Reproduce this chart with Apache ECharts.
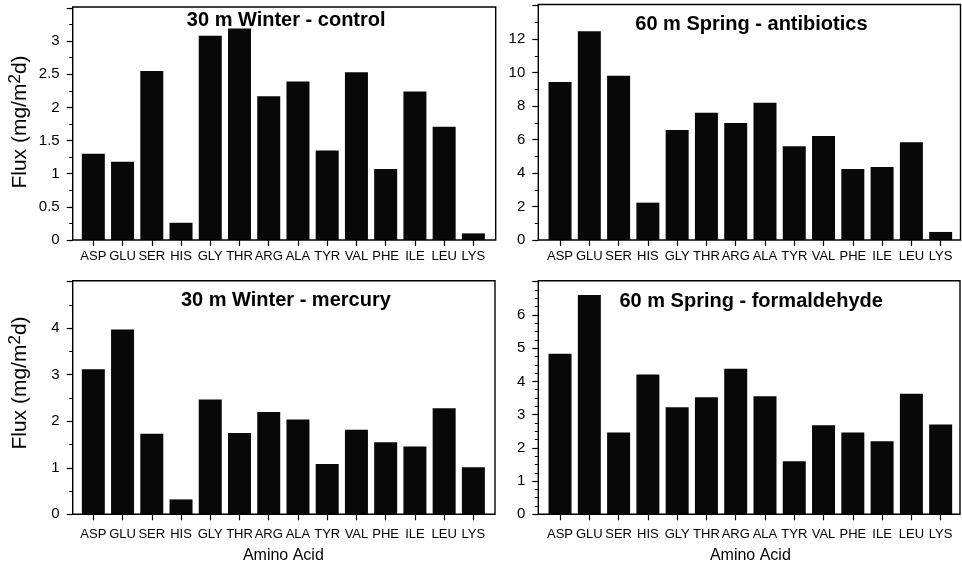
<!DOCTYPE html>
<html>
<head>
<meta charset="utf-8">
<title>Amino acid flux</title>
<script src="https://cdn.jsdelivr.net/npm/echarts@6/dist/echarts.min.js"></script>
<style>
  html, body { margin: 0; padding: 0; background: #fff; }
  #chart { width: 962px; height: 566px; }
</style>
</head>
<body>
<div id="chart"></div>
<script>
// Amino acids on the x axis
const categories = ['ASP', 'GLU', 'SER', 'HIS', 'GLY', 'THR', 'ARG', 'ALA', 'TYR', 'VAL', 'PHE', 'ILE', 'LEU', 'LYS'];

// Flux values, mg/m2d
const winterControl      = [1.30, 1.18, 2.55, 0.26, 3.08, 3.19, 2.17, 2.39, 1.35, 2.53, 1.07, 2.24, 1.71, 0.10];
const springAntibiotics  = [9.43, 12.46, 9.81, 2.23, 6.57, 7.60, 6.99, 8.20, 5.59, 6.21, 4.24, 4.36, 5.83, 0.48];
const winterMercury      = [3.12, 3.97, 1.73, 0.32, 2.47, 1.75, 2.20, 2.04, 1.08, 1.82, 1.55, 1.46, 2.28, 1.01];
const springFormaldehyde = [4.83, 6.60, 2.46, 4.21, 3.22, 3.52, 4.38, 3.55, 1.60, 2.68, 2.46, 2.20, 3.63, 2.70];

const panelTitles = ['30 m Winter - control', '60 m Spring - antibiotics', '30 m Winter - mercury', '60 m Spring - formaldehyde'];
const panelSeries = [winterControl, springAntibiotics, winterMercury, springFormaldehyde];

// y axis ranges and tick steps
const yMax = [3.5, 14, 5, 7];
const yStep = [0.5, 2, 1, 1];
const yMinorSplits = [2, 2, 2, 4];

const yTitle = 'Flux (mg/m{sup|2}d)';
const xTitle = 'Amino Acid';

// Panel geometry: frame box, category band inside it, text placement
const layout = [
  { x0: 72.7,  x1: 495.7, top: 8,     bottom: 240,   band0: 78.7,  band1: 488,   labelMargin: 10, left: true,  base: false, titleTop: 10.5, nameShift: 4 },
  { x0: 538.3, x1: 960.5, top: 5.5,   bottom: 240,   band0: 545.4, band1: 955.3, labelMargin: 10, left: false, base: false, titleTop: 14,   nameShift: 0 },
  { x0: 72.7,  x1: 495,   top: 281.7, bottom: 514.3, band0: 78.7,  band1: 488,   labelMargin: 14, left: true,  base: true,  titleTop: 290.5, nameShift: 30 },
  { x0: 538.3, x1: 960,   top: 281.7, bottom: 514.3, band0: 545.4, band1: 955.3, labelMargin: 14, left: false, base: true,  titleTop: 291,  nameShift: 0 }
];

const FONT = '"Liberation Sans", Arial, Helvetica, sans-serif';
const INK = '#000';

const chart = echarts.init(document.getElementById('chart'), null, { renderer: 'canvas' });

const grids = [], xAxes = [], yAxes = [], series = [], titles = [], frames = [];

layout.forEach((p, i) => {
  grids.push({
    left: p.band0,
    top: p.top,
    width: p.band1 - p.band0,
    height: p.bottom - p.top,
    containLabel: false
  });

  xAxes.push({
    type: 'category',
    gridIndex: i,
    data: categories,
    axisLine: { show: false },
    axisTick: { show: true, alignWithLabel: true, length: 6, lineStyle: { color: INK, width: 1.2 } },
    axisLabel: { interval: 0, margin: p.labelMargin, color: INK, fontSize: 13, fontFamily: FONT },
    name: p.base ? xTitle : '',
    nameLocation: 'middle',
    nameGap: 33,
    nameTextStyle: { color: INK, fontSize: 16, fontFamily: FONT }
  });

  yAxes.push({
    type: 'value',
    gridIndex: i,
    min: 0,
    max: yMax[i],
    interval: yStep[i],
    offset: p.band0 - p.x0,
    axisLine: { show: false },
    axisTick: { show: true, length: 6, lineStyle: { color: INK, width: 1.2 } },
    minorTick: { show: true, splitNumber: yMinorSplits[i], length: 3.5, lineStyle: { color: INK, width: 1 } },
    splitLine: { show: false },
    axisLabel: { color: INK, fontSize: 15, margin: 13, fontFamily: FONT, showMaxLabel: false },
    name: p.left ? yTitle : '',
    nameLocation: 'middle',
    nameGap: 39,
    nameRotate: 90,
    nameTextStyle: {
      color: INK, fontSize: 21, fontFamily: FONT,
      padding: [0, 0, 0, p.nameShift],
      rich: { sup: { color: INK, fontSize: 17, fontFamily: FONT, padding: [0, 0, 10, 0] } }
    }
  });

  series.push({
    type: 'bar',
    xAxisIndex: i,
    yAxisIndex: i,
    data: panelSeries[i],
    barWidth: 23,
    itemStyle: { color: '#080808' },
    silent: true
  });

  titles.push({
    text: panelTitles[i],
    left: (p.x0 + p.x1) / 2 + 2,
    top: p.titleTop,
    textAlign: 'center',
    padding: 0,
    textStyle: { color: INK, fontSize: 20, fontWeight: 'bold', fontFamily: FONT }
  });

  frames.push({
    type: 'rect',
    silent: true,
    z: 100,
    shape: { x: p.x0, y: p.top - 1, width: p.x1 - p.x0, height: p.bottom - p.top + 1 },
    style: { fill: null, stroke: INK, lineWidth: 1.4 }
  });
});

chart.setOption({
  animation: false,
  backgroundColor: '#fff',
  title: titles,
  grid: grids,
  xAxis: xAxes,
  yAxis: yAxes,
  series: series,
  graphic: frames
});
</script>
</body>
</html>
